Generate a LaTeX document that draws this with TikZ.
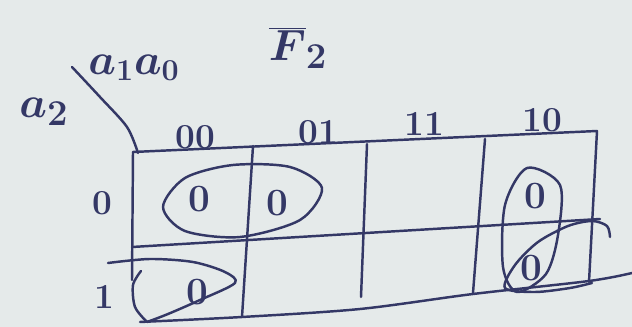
\documentclass[tikz,border=0pt]{standalone}
\definecolor{ink}{RGB}{52,56,102}
\definecolor{paper}{RGB}{229,234,234}
\begin{document}
\begin{tikzpicture}[x=0.02cm,y=-0.02cm,
  pen/.style={draw=ink, line width=1.4pt, line cap=round, line join=round},
  lbl/.style={text=ink, inner sep=0pt, font=\fontsize{20}{22}\selectfont\bfseries\boldmath},
  biglbl/.style={text=ink, inner sep=0pt, font=\fontsize{28}{30}\selectfont\boldmath},
  cellzero/.style={text=ink, inner sep=0pt, font=\fontsize{22}{24}\selectfont\bfseries}]
\fill[paper] (0,0) rectangle (632,327);
\useasboundingbox (0,0) rectangle (632,327);
% grid corner coordinates
\coordinate (t0) at (133,152); \coordinate (t1) at (253,146);
\coordinate (t2) at (367,144); \coordinate (t3) at (485,139);
\coordinate (t4) at (597,131);
\coordinate (m0) at (132,247); \coordinate (m4) at (600,219);
\coordinate (l1) at (132,280);
\coordinate (b1) at (242,317); \coordinate (b2) at (361,297);
\coordinate (b3) at (473,293); \coordinate (b4) at (589,282);
% grid lines
\draw[pen] (t0) -- (t4);
\draw[pen] (m0) -- (m4);
\draw[pen] plot[smooth] coordinates {(140,322) (242,317) (360,309) (473,294) (589,281) (632,273)};
\draw[pen] (t0) -- (l1);
\draw[pen] (t1) -- (b1);
\draw[pen] (t2) -- (b2);
\draw[pen] (t3) -- (b3);
\draw[pen] (t4) -- (b4);
% variable labels
\node[biglbl] (a2) at (44,112) {$a_2$};
\node[biglbl, font=\fontsize{24}{26}\selectfont\boldmath] (a1a0) at (134,68) {$a_1a_0$};
\node[biglbl, font=\fontsize{32}{34}\selectfont\boldmath] (F) at (298,48) {$\overline{F}_2$};
\coordinate (d0) at (72,67);
\coordinate (d1) at (138,153);
\draw[pen] plot[smooth] coordinates {(d0) (100,97) (127,127) (d1)};
% column and row labels
\node[lbl] (c00) at (195,137) {00};
\node[lbl] (c01) at (318,132) {01};
\node[lbl] (c11) at (424,124) {11};
\node[lbl] (c10) at (542,120) {10};
\node[lbl] (r0) at (102,203) {0};
\node[lbl] (r1) at (104,297) {1};
% cell entries
\node[cellzero] (z1) at (199,199) {0};
\node[cellzero] (z2) at (277,203) {0};
\node[cellzero] (z3) at (535,196) {0};
\node[cellzero] (z4) at (531,268) {0};
\node[cellzero] (z5) at (197,292) {0};
% loops
\draw[pen] plot[smooth cycle] coordinates {(163,207) (185,178) (233,165) (290,167) (322,188) (300,220) (240,237) (185,231)};
\draw[pen] plot[smooth cycle] coordinates {(527,168) (560,185) (558,235) (546,274) (517,292) (503,267) (505,205)};
\draw[pen] plot[smooth] coordinates {(610,237) (607,226) (592,221) (568,226) (538,242) (515,265) (505,288) (535,292) (570,288) (592,283)};
\draw[pen] plot[smooth] coordinates {(108,263) (150,259) (193,262) (225,272) (235,283) (200,300) (168,314) (147,322)};
\draw[pen] plot[smooth] coordinates {(141,271) (133,285) (135,307) (147,322)};
\end{tikzpicture}
\end{document}
